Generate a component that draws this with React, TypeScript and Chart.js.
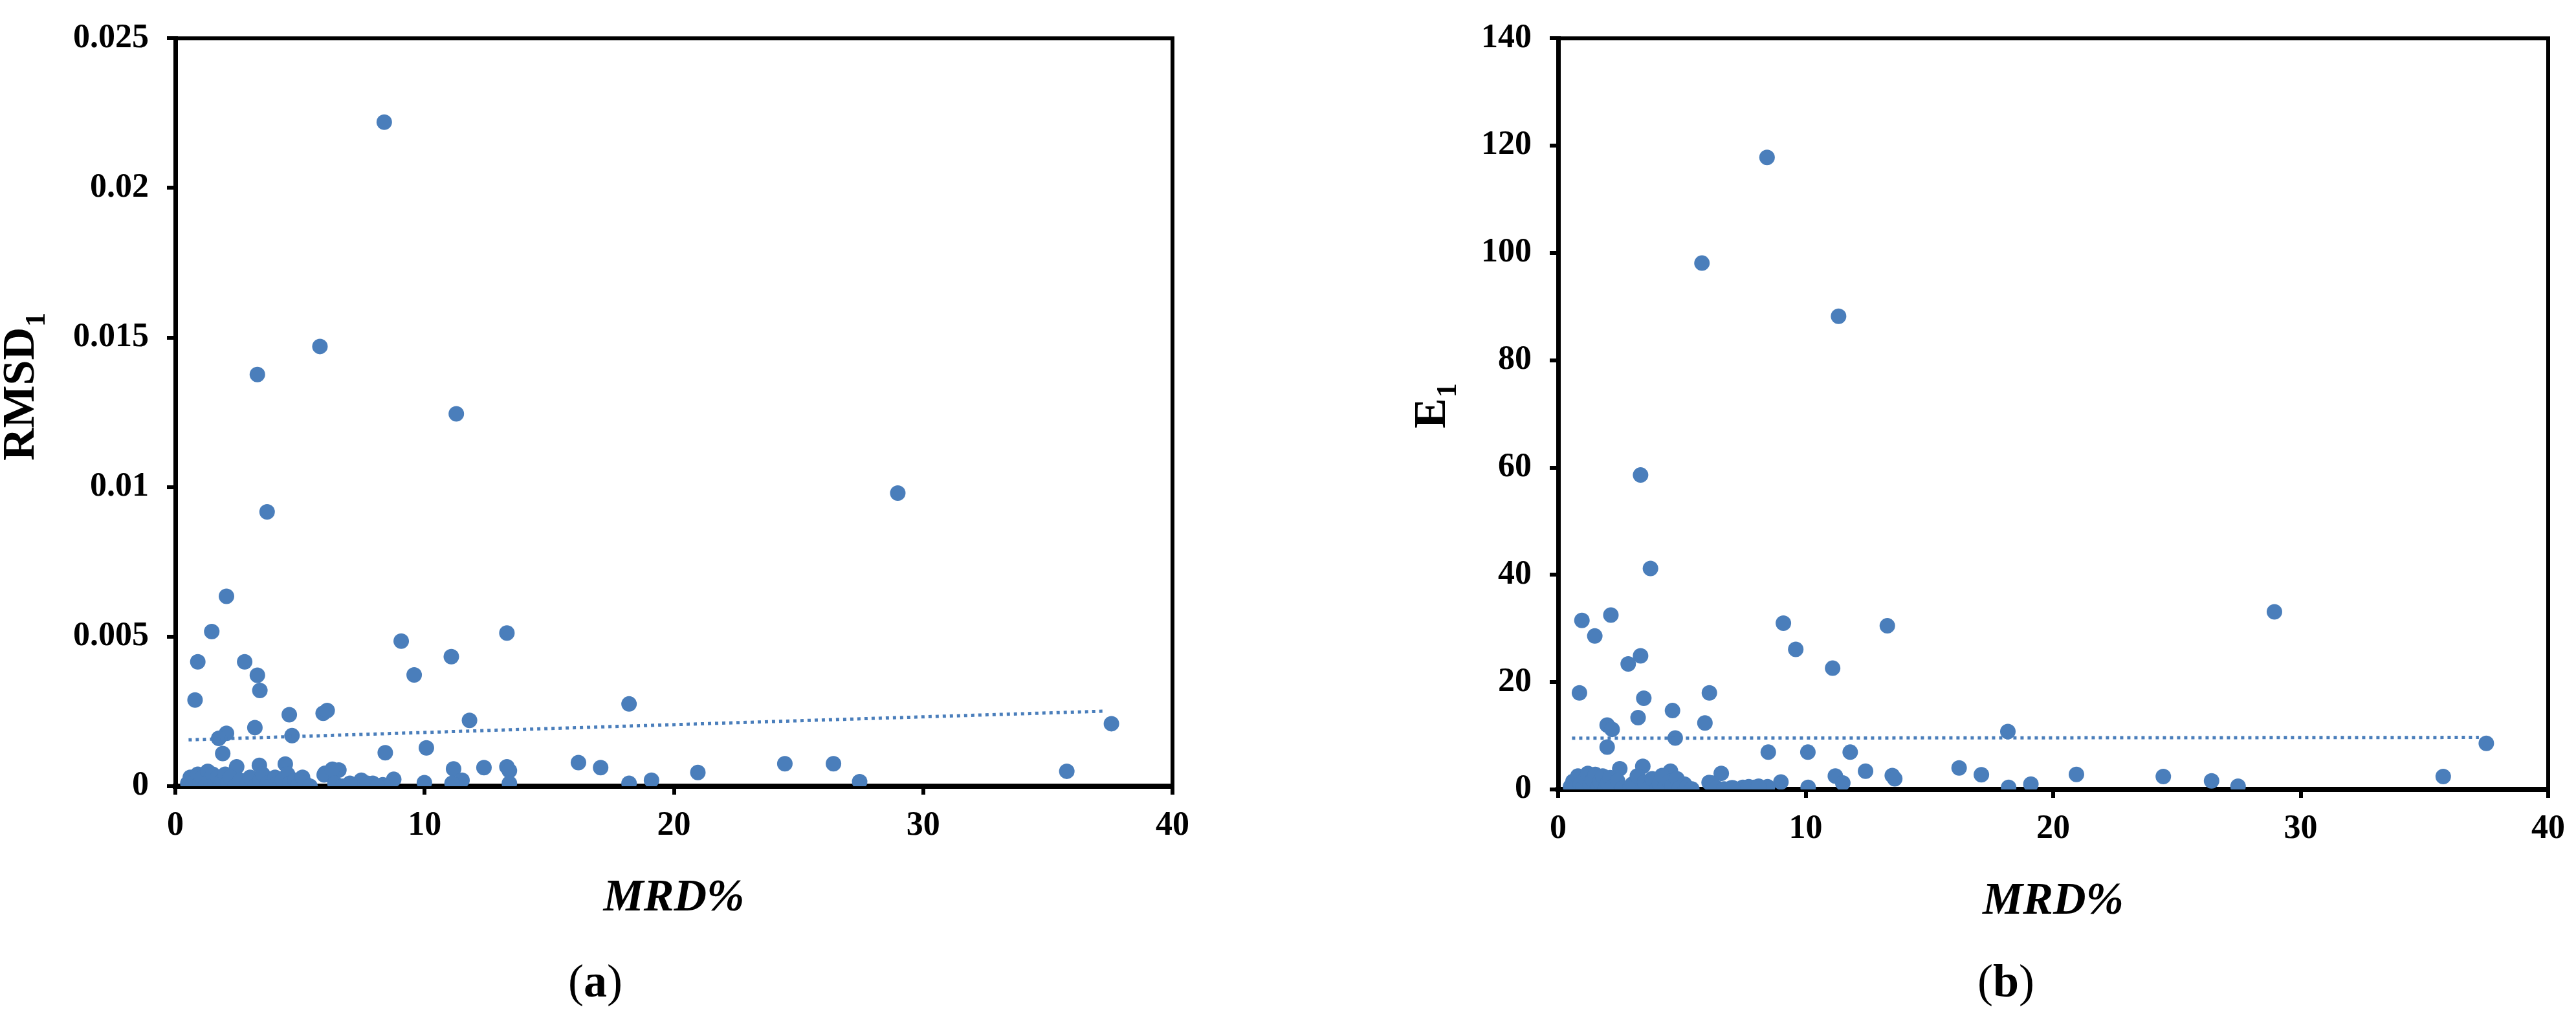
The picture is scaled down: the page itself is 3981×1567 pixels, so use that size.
import { useEffect, useRef } from 'react';
import { Chart, registerables } from 'chart.js';

Chart.register(...registerables);

const SERIF = '"Liberation Serif", "Times New Roman", serif';
const DOT_COLOR = '#4a7ebb';

// ---------- shared axis ticks ----------
const xTicks = [0, 10, 20, 30, 40];
const xTickLabels = ['0', '10', '20', '30', '40'];

// ---------- panel (a): RMSD1 vs MRD% ----------
const mrdA = [
  8.38, 5.8, 3.29, 11.27, 28.98, 3.68, 2.05, 1.46, 13.3, 9.06,
  11.07, 0.9, 2.78, 3.29, 9.58, 3.39, 0.79, 18.2, 5.93, 6.09,
  4.57, 11.8, 37.55, 3.19, 2.05, 1.74, 4.68, 1.9, 8.42, 10.07,
  2.46, 3.37, 4.41, 16.17, 17.06, 12.38, 11.16, 13.3, 13.4, 6.56,
  5.97, 8.76, 9.99, 11.5, 11.1, 13.4, 18.2, 19.1, 20.96, 24.45,
  26.4, 27.45, 35.76, 7.46, 7.92, 8.32, 6.0, 6.3,
  0.5, 0.6, 0.7, 0.8, 0.9, 1.0, 1.1, 1.2, 1.3, 1.4,
  1.5, 1.6, 1.7, 1.8, 1.9, 2.0, 2.1, 2.2, 2.4, 2.6,
  2.9, 3.0, 3.2, 3.4, 3.5, 3.7, 3.8, 4.0, 4.1, 4.2,
  4.3, 4.5, 4.6, 4.8, 4.9, 5.1, 5.2, 5.4, 6.4, 6.7,
  7.0, 7.7, 8.1,
];
const rmsdA = [
  0.0222, 0.0147, 0.01376, 0.01245, 0.0098, 0.00917, 0.00635, 0.00517, 0.00512, 0.00485,
  0.00433, 0.00416, 0.00416, 0.00371, 0.00372, 0.0032, 0.00288, 0.00275, 0.00244, 0.00253,
  0.00239, 0.0022, 0.00209, 0.00196, 0.00177, 0.0016, 0.00169, 0.00109, 0.00112, 0.00128,
  0.00065, 0.0007, 0.00074, 0.00079, 0.00062, 0.00062, 0.00058, 0.00065, 0.00052, 0.00054,
  0.00038, 0.00023, 0.00012, 0.0002, 0.0001, 0.0001, 0.0001, 0.0002, 0.00046, 0.00075,
  0.00075, 0.00015, 0.0005, 0.0002, 0.0001, 0.00005, 0.00043, 0.00057,
  0.0001, 0.0003, 0.0, 0.0002, 0.0004, 0.0001, 0.0003, 0.0, 0.0005, 0.0002,
  0.0004, 0.0001, 0.0003, 0.0, 0.0002, 0.0004, 0.0001, 0.0003, 0.0, 0.0002,
  0.0001, 0.0003, 0.0, 0.0002, 0.0004, 0.0001, 0.0, 0.0003, 0.0001, 0.0,
  0.0002, 0.0004, 0.0001, 0.0002, 0.0, 0.0003, 0.0001, 0.0, 0.0001, 0.0,
  0.0001, 0.0001, 0.0,
];
const trendMrdA = [0.53, 37.3];
const trendRmsdA = [0.00155, 0.00251];
const yTicksA = [0, 0.005, 0.01, 0.015, 0.02, 0.025];
const yTickLabelsA = ['0', '0.005', '0.01', '0.015', '0.02', '0.025'];

// ---------- panel (b): E1 vs MRD% ----------
const mrdB = [
  8.44, 5.81, 11.33, 3.33, 3.73, 28.94, 2.13, 0.96, 9.1, 13.3,
  1.48, 9.6, 3.33, 2.83, 11.09, 0.86, 6.11, 3.46, 4.62, 3.23,
  5.93, 1.98, 2.18, 18.17, 4.73, 37.5, 1.98, 8.49, 10.09, 11.8,
  2.49, 3.42, 4.54, 6.59, 12.42, 13.5, 13.6, 16.2, 17.1, 11.2,
  11.5, 10.1, 18.2, 19.1, 20.94, 24.45, 26.4, 27.47, 35.76, 9.0,
  8.46, 7.93, 7.46, 7.06, 6.1,
  0.5, 0.6, 0.7, 0.8, 0.9, 1.0, 1.1, 1.2, 1.3, 1.4,
  1.5, 1.6, 1.7, 1.8, 1.9, 2.0, 2.1, 2.2, 2.4, 2.6,
  2.9, 3.0, 3.2, 3.4, 3.5, 3.7, 3.8, 4.0, 4.1, 4.2,
  4.3, 4.5, 4.6, 4.8, 4.9, 5.1, 5.2, 5.4, 6.2, 6.4,
  6.7, 7.0, 7.7, 8.1,
];
const e1B = [
  117.8, 98.1, 88.2, 58.6, 41.2, 33.1, 32.5, 31.5, 31.0, 30.5,
  28.6, 26.1, 24.9, 23.4, 22.6, 18.0, 18.0, 17.0, 14.7, 13.4,
  12.4, 12.0, 11.2, 10.8, 9.6, 8.6, 7.9, 6.95, 6.95, 6.95,
  3.87, 4.3, 3.4, 3.0, 3.4, 2.6, 2.0, 4.0, 2.75, 2.5,
  1.2, 0.4, 0.4, 1.0, 2.8, 2.4, 1.6, 0.6, 2.4, 1.4,
  0.5, 0.4, 0.4, 0.3, 1.3,
  0.5, 1.5, 0.2, 2.5, 1.0, 0.3, 2.0, 3.0, 0.8, 1.8,
  2.8, 0.4, 1.5, 2.5, 0.1, 1.2, 2.2, 0.5, 1.6, 0.2,
  0.3, 1.0, 2.5, 0.2, 1.4, 0.5, 2.0, 0.1, 1.1, 2.6,
  0.3, 1.5, 0.6, 2.0, 0.2, 1.0, 0.4, 0.1, 1.2, 0.3,
  0.1, 0.3, 0.5, 0.6,
];
const trendMrdB = [0.56, 37.2];
const trendE1B = [9.55, 9.7];
const yTicksB = [0, 20, 40, 60, 80, 100, 120, 140];
const yTickLabelsB = ['0', '20', '40', '60', '80', '100', '120', '140'];

type PanelSpec = {
  xs: number[];
  ys: number[];
  tx: number[];
  ty: number[];
  yTicks: number[];
  yLabels: string[];
  yMax: number;
  canvasW: number;
  yAxisW: number;
  xAxisH: number;
  padTop: number;
  padRight: number;
  yTitle: string;
  ySub: string;
  yTitleBaseX: number;
  yTitleStartY: number;
  xTitleBaseY: number;
  panel: string;
  panelCX: number;
  panelBaseY: number;
};

const CANVAS_H = 1567;

function makeDecor(p: PanelSpec) {
  return {
    id: 'decor',
    beforeDatasetsDraw(chart: any) {
      const { ctx, chartArea } = chart;
      ctx.save();
      ctx.strokeStyle = '#000';
      ctx.lineWidth = 6;
      ctx.beginPath();
      ctx.moveTo(chartArea.left - 3, chartArea.top);
      ctx.lineTo(chartArea.right, chartArea.top);
      ctx.lineTo(chartArea.right, chartArea.bottom + 4);
      ctx.stroke();
      ctx.restore();
    },
    afterDraw(chart: any) {
      const { ctx, chartArea } = chart;
      ctx.save();
      ctx.fillStyle = '#000';
      // y title (rotated, with subscript)
      ctx.translate(p.yTitleBaseX, p.yTitleStartY);
      ctx.rotate(-Math.PI / 2);
      ctx.textAlign = 'left';
      ctx.textBaseline = 'alphabetic';
      ctx.font = `bold 70px ${SERIF}`;
      ctx.fillText(p.yTitle, 0, 0);
      const w = ctx.measureText(p.yTitle).width;
      ctx.font = `bold 44px ${SERIF}`;
      ctx.fillText(p.ySub, w + 1, 17);
      ctx.restore();

      // x title
      ctx.save();
      ctx.fillStyle = '#000';
      ctx.textAlign = 'center';
      ctx.textBaseline = 'alphabetic';
      ctx.font = `italic bold 70px ${SERIF}`;
      ctx.fillText('MRD%', (chartArea.left + chartArea.right) / 2, p.xTitleBaseY);

      // panel label "(a)" with bold letter
      ctx.textAlign = 'left';
      const regular = `72px ${SERIF}`;
      const bold = `bold 72px ${SERIF}`;
      ctx.font = regular;
      const wo = ctx.measureText('(').width;
      const wc = ctx.measureText(')').width;
      ctx.font = bold;
      const wl = ctx.measureText(p.panel).width;
      const total = wo + wl + wc;
      let x = p.panelCX - total / 2;
      ctx.font = regular;
      ctx.fillText('(', x, p.panelBaseY);
      x += wo;
      ctx.font = bold;
      ctx.fillText(p.panel, x, p.panelBaseY);
      x += wl;
      ctx.font = regular;
      ctx.fillText(')', x, p.panelBaseY);
      ctx.restore();
    },
  };
}

function makeConfig(p: PanelSpec): any {
  const tickFont = { family: SERIF, size: 52, weight: 'bold' as const };
  return {
    type: 'scatter',
    data: {
      datasets: [
        {
          type: 'line',
          data: p.tx.map((x, i) => ({ x, y: p.ty[i] })),
          borderColor: DOT_COLOR,
          borderWidth: 5,
          borderDash: [5, 6],
          borderCapStyle: 'butt',
          pointRadius: 0,
          fill: false,
          showLine: true,
        },
        {
          data: p.xs.map((x, i) => ({ x, y: p.ys[i] })),
          backgroundColor: DOT_COLOR,
          borderColor: DOT_COLOR,
          borderWidth: 0,
          pointRadius: 12,
          pointHoverRadius: 12,
        },
      ],
    },
    options: {
      responsive: false,
      animation: false,
      devicePixelRatio: 1,
      layout: { padding: { left: 0, top: p.padTop, right: p.padRight, bottom: 0 } },
      plugins: { legend: { display: false }, tooltip: { enabled: false } },
      events: [],
      scales: {
        x: {
          type: 'linear',
          position: 'bottom',
          min: 0,
          max: 40,
          afterBuildTicks: (s: any) => {
            s.ticks = xTicks.map((v) => ({ value: v }));
          },
          afterFit: (s: any) => {
            s.height = p.xAxisH;
          },
          ticks: {
            autoSkip: false,
            maxRotation: 0,
            minRotation: 0,
            padding: 17,
            color: '#000',
            font: tickFont,
            callback: (v: number) => xTickLabels[xTicks.indexOf(v)] ?? '',
          },
          grid: { drawOnChartArea: false, drawTicks: true, tickLength: 13, color: '#000', lineWidth: 6 },
          border: { display: true, color: '#000', width: 8 },
        },
        y: {
          type: 'linear',
          position: 'left',
          min: 0,
          max: p.yMax,
          afterBuildTicks: (s: any) => {
            s.ticks = p.yTicks.map((v) => ({ value: v }));
          },
          afterFit: (s: any) => {
            s.width = p.yAxisW;
          },
          ticks: {
            autoSkip: false,
            padding: 28,
            color: '#000',
            font: tickFont,
            callback: (v: number) => p.yLabels[p.yTicks.indexOf(v)] ?? '',
          },
          grid: { drawOnChartArea: false, drawTicks: true, tickLength: 13, color: '#000', lineWidth: 6 },
          border: { display: true, color: '#000', width: 7 },
        },
      },
    },
    plugins: [makeDecor(p)],
  };
}

const panelA: PanelSpec = {
  xs: mrdA,
  ys: rmsdA,
  tx: trendMrdA,
  ty: trendRmsdA,
  yTicks: yTicksA,
  yLabels: yTickLabelsA,
  yMax: 0.025,
  canvasW: 1990,
  yAxisW: 271,
  xAxisH: CANVAS_H - 1215,
  padTop: 41,
  padRight: 1990 - 1812,
  yTitle: 'RMSD',
  ySub: '1',
  yTitleBaseX: 52,
  yTitleStartY: 712,
  xTitleBaseY: 1407,
  panel: 'a',
  panelCX: 920,
  panelBaseY: 1540,
};

const panelB: PanelSpec = {
  xs: mrdB,
  ys: e1B,
  tx: trendMrdB,
  ty: trendE1B,
  yTicks: yTicksB,
  yLabels: yTickLabelsB,
  yMax: 140,
  canvasW: 1991,
  yAxisW: 418,
  xAxisH: CANVAS_H - 1220,
  padTop: 58,
  padRight: 1991 - 1948,
  yTitle: 'E',
  ySub: '1',
  yTitleBaseX: 243,
  yTitleStartY: 662,
  xTitleBaseY: 1412,
  panel: 'b',
  panelCX: 1110,
  panelBaseY: 1540,
};

function Panel({ spec, left }: { spec: PanelSpec; left: number }) {
  const ref = useRef<HTMLCanvasElement | null>(null);
  useEffect(() => {
    if (!ref.current) return;
    const chart = new Chart(ref.current, makeConfig(spec));
    return () => chart.destroy();
  }, [spec]);
  return (
    <canvas
      ref={ref}
      width={spec.canvasW}
      height={CANVAS_H}
      style={{ position: 'absolute', left, top: 0, width: spec.canvasW, height: CANVAS_H, display: 'block' }}
    />
  );
}

export default function App() {
  return (
    <div style={{ position: 'absolute', left: 0, top: 0, width: 3981, height: CANVAS_H, background: '#fff' }}>
      <Panel spec={panelA} left={0} />
      <Panel spec={panelB} left={1990} />
    </div>
  );
}
